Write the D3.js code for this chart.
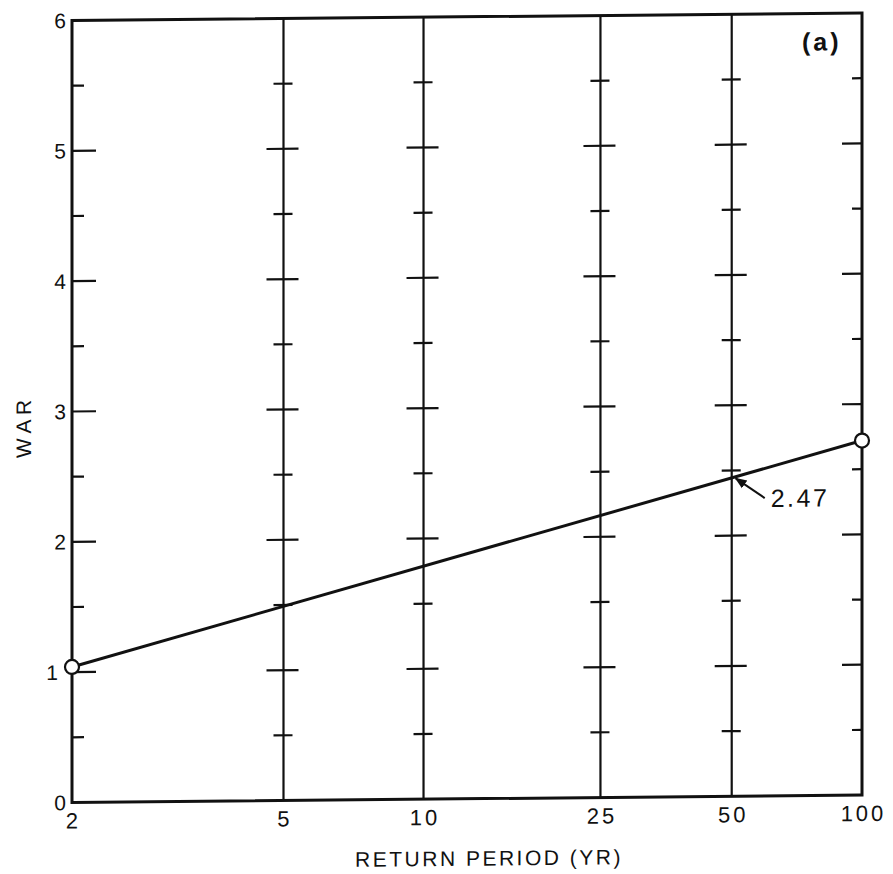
<!DOCTYPE html>
<html>
<head>
<meta charset="utf-8">
<script src="https://cdn.jsdelivr.net/npm/d3@7"></script>
<style>
  body { margin: 0; background: #fff; }
  text { font-family: "Liberation Sans", Arial, sans-serif; fill: #111; }
</style>
</head>
<body>
<div id="chart"></div>
<script>
// values
const returnPeriods = [2, 5, 10, 25, 50, 100];
const warMajor = [0, 1, 2, 3, 4, 5, 6];
const warMinor = [0.5, 1.5, 2.5, 3.5, 4.5, 5.5];
const lineT = [2, 100];
const lineWAR = [1.04, 2.72];
const calloutT = 50;
const calloutWAR = 2.47;
const calloutText = "2.47";
const panelLabel = "(a)";

// Gumbel reduced variate: the paper is an extreme-value probability grid
const gumbel = T => -Math.log(-Math.log(1 - 1 / T));

const W = 893, H = 874;
const svg = d3.select("#chart").append("svg")
    .attr("width", W)
    .attr("height", H);

const pLeft = 72, pRight = 862, pTop = 20.5, pBottom = 802.5;

const x = d3.scaleLinear()
    .domain([gumbel(returnPeriods[0]), gumbel(returnPeriods[returnPeriods.length - 1])])
    .range([pLeft, pRight]);

const y = d3.scaleLinear()
    .domain([0, 6])
    .range([pBottom, pTop]);

// the scanned sheet is slightly skewed (right side sits higher)
const g = svg.append("g")
    .attr("transform", `translate(${pLeft},0) skewY(-0.54) translate(${-pLeft},0)`);

// interior vertical grid lines with crossing ticks
const inner = returnPeriods.slice(1, -1);
inner.forEach(T => {
    const xp = x(gumbel(T));
    g.append("line")
        .attr("x1", xp).attr("x2", xp)
        .attr("y1", pTop).attr("y2", pBottom)
        .attr("stroke", "#111").attr("stroke-width", 2.2);
    g.selectAll(null).data(warMajor.slice(1, -1)).enter().append("line")
        .attr("x1", xp - 17).attr("x2", xp + 15)
        .attr("y1", d => y(d)).attr("y2", d => y(d))
        .attr("stroke", "#111").attr("stroke-width", 2.2);
    g.selectAll(null).data(warMinor).enter().append("line")
        .attr("x1", xp - 10).attr("x2", xp + 9)
        .attr("y1", d => y(d)).attr("y2", d => y(d))
        .attr("stroke", "#111").attr("stroke-width", 2.2);
});

// ticks on left and right borders (inward)
g.selectAll(null).data(warMajor.slice(1, -1)).enter().append("line")
    .attr("x1", pLeft).attr("x2", pLeft + 24)
    .attr("y1", d => y(d)).attr("y2", d => y(d))
    .attr("stroke", "#111").attr("stroke-width", 2.2);
g.selectAll(null).data(warMinor).enter().append("line")
    .attr("x1", pLeft).attr("x2", pLeft + 12)
    .attr("y1", d => y(d)).attr("y2", d => y(d))
    .attr("stroke", "#111").attr("stroke-width", 2.2);
g.selectAll(null).data(warMajor.slice(1, -1)).enter().append("line")
    .attr("x1", pRight - 20).attr("x2", pRight)
    .attr("y1", d => y(d)).attr("y2", d => y(d))
    .attr("stroke", "#111").attr("stroke-width", 2.2);
g.selectAll(null).data(warMinor).enter().append("line")
    .attr("x1", pRight - 10).attr("x2", pRight)
    .attr("y1", d => y(d)).attr("y2", d => y(d))
    .attr("stroke", "#111").attr("stroke-width", 2.2);

// frame
g.append("rect")
    .attr("x", pLeft).attr("y", pTop)
    .attr("width", pRight - pLeft).attr("height", pBottom - pTop)
    .attr("fill", "none")
    .attr("stroke", "#111")
    .attr("stroke-width", 3);

// y tick labels ("1" sits a little further out, clear of the circle)
g.selectAll(null).data(warMajor).enter().append("text")
    .attr("x", d => d === 1 ? pLeft - 14 : pLeft - 6)
    .attr("y", d => y(d))
    .attr("dy", "0.36em")
    .attr("text-anchor", "end")
    .attr("font-size", 21)
    .text(d => d);

// x tick labels
g.selectAll(null).data(returnPeriods).enter().append("text")
    .attr("x", d => x(gumbel(d)) + 1.5)
    .attr("y", pBottom + 26)
    .attr("text-anchor", "middle")
    .attr("font-size", 22)
    .attr("letter-spacing", 3)
    .text(d => d);

// axis titles
g.append("text")
    .attr("x", 489)
    .attr("y", pBottom + 67)
    .attr("text-anchor", "middle")
    .attr("font-size", 21)
    .attr("letter-spacing", 2.5)
    .text("RETURN PERIOD (YR)");

g.append("text")
    .attr("transform", `translate(31,${y(3) + 17}) rotate(-90)`)
    .attr("text-anchor", "middle")
    .attr("font-size", 21)
    .text("W A R");

// panel label
g.append("text")
    .attr("x", 802)
    .attr("y", pTop + 37)
    .attr("font-size", 25)
    .attr("font-weight", "bold")
    .attr("letter-spacing", 3)
    .text(panelLabel);

// data line and end circles
const pts = lineT.map((T, i) => [x(gumbel(T)), y(lineWAR[i])]);
g.append("path")
    .attr("d", d3.line()(pts))
    .attr("fill", "none")
    .attr("stroke", "#111")
    .attr("stroke-width", 3);

g.selectAll(null).data(pts).enter().append("circle")
    .attr("cx", d => d[0]).attr("cy", d => d[1])
    .attr("r", 7)
    .attr("fill", "#fff")
    .attr("stroke", "#111")
    .attr("stroke-width", 2.2);

// callout arrow
svg.append("defs").append("marker")
    .attr("id", "arrow")
    .attr("viewBox", "0 0 10 10")
    .attr("refX", 9).attr("refY", 5)
    .attr("markerWidth", 6).attr("markerHeight", 6)
    .attr("orient", "auto-start-reverse")
    .append("path")
    .attr("d", "M0,1 L10,5 L0,9 Z")
    .attr("fill", "#111");

const cx = x(gumbel(calloutT)), cy = y(calloutWAR);
g.append("line")
    .attr("x1", cx + 33).attr("y1", cy + 24)
    .attr("x2", cx + 4).attr("y2", cy + 4)
    .attr("stroke", "#111")
    .attr("stroke-width", 2)
    .attr("marker-end", "url(#arrow)");

g.append("text")
    .attr("x", cx + 39)
    .attr("y", cy + 33)
    .attr("font-size", 25)
    .attr("letter-spacing", 2.5)
    .text(calloutText);
</script>
</body>
</html>
